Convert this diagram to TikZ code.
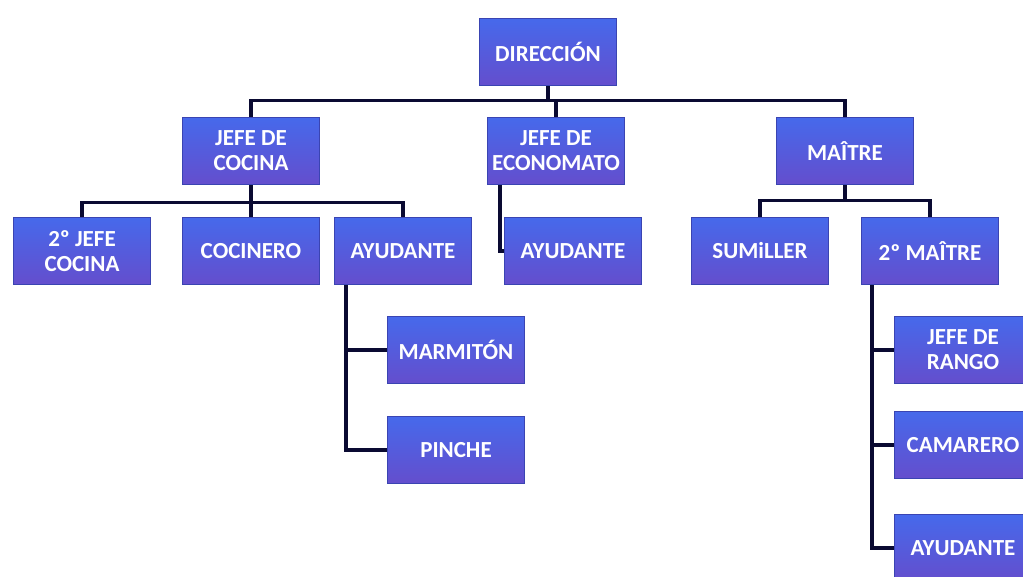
\documentclass[tikz,border=0pt]{standalone}
\usepackage{fontspec}
\setmainfont{Carlito}
\usetikzlibrary{calc}
\begin{document}
\begin{tikzpicture}[x=1pt,y=-1pt,
  box/.style={rectangle, minimum width=137pt, minimum height=67pt, inner sep=1pt,
    top color={rgb,255:red,70;green,105;blue,235},
    bottom color={rgb,255:red,100;green,78;blue,205},
    draw={rgb,255:red,58;green,68;blue,178}, line width=1.5pt,
    text=white, align=center,
    font=\bfseries\fontsize{23}{25}\selectfont},
  conn/.style={draw={rgb,255:red,10;green,10;blue,50}, line width=3.5pt}]
\useasboundingbox[fill=white] (0,0) rectangle (1023,577);
% nodes
\node[box] (dir) at (548,52) {DIRECCIÓN};
\node[box] (jc)  at (251,151) {JEFE DE\\COCINA};
\node[box] (eco) at (556,151) {JEFE DE\\ECONOMATO};
\node[box] (mai) at (845,151) {MAÎTRE};
\node[box] (jc2) at (82,251) {2º JEFE\\COCINA};
\node[box] (coc) at (251,251) {COCINERO};
\node[box] (ayc) at (403,251) {AYUDANTE};
\node[box] (aye) at (573,251) {AYUDANTE};
\node[box] (sum) at (760,251) {SUMiLLER};
\node[box] (m2)  at (930,251) {2º MAÎTRE};
\node[box] (mar) at (456,350) {MARMITÓN};
\node[box] (pin) at (456,450) {PINCHE};
\node[box] (jr)  at (963,350) {JEFE DE\\RANGO};
\node[box] (cam) at (963,445) {CAMARERO};
\node[box] (aym) at (963,548) {AYUDANTE};
% connectors
\coordinate (busA) at (0,102);
\draw[conn] (jc.north) -- ++(0,-16) -| (mai.north);
\draw[conn] (dir.south) -- (dir.south |- busA);
\draw[conn] (eco.north) -- (eco.north |- busA);
\draw[conn] (jc2.north) -- ++(0,-14) -| (ayc.north);
\draw[conn] (jc.south) -- (coc.north);
\coordinate (ecoL) at ($(eco.south west)+(13,0)$);
\draw[conn] (ecoL) |- (aye.west);
\draw[conn] (sum.north) -- ++(0,-16) -| (m2.north);
\draw[conn] (mai.south) -- ++(0,16);
\coordinate (m2L) at ($(m2.south west)+(11,0)$);
\draw[conn] (m2L) |- (aym.west);
\draw[conn] (jr.west) -- (jr.west -| m2L);
\draw[conn] (cam.west) -- (cam.west -| m2L);
\coordinate (acL) at ($(ayc.south west)+(12,0)$);
\draw[conn] (acL) |- (pin.west);
\draw[conn] (mar.west) -- (mar.west -| acL);
\end{tikzpicture}
\end{document}
